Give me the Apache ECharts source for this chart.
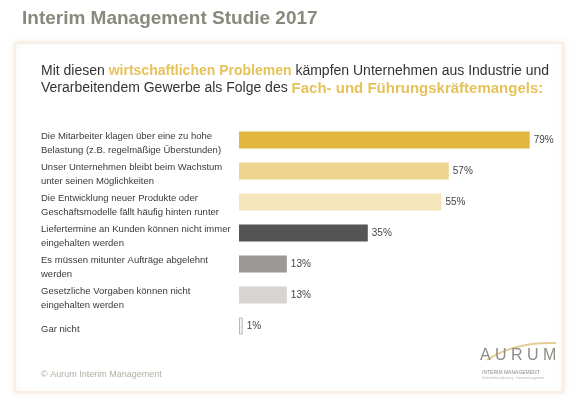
<!DOCTYPE html>
<html><head><meta charset="utf-8">
<script src="https://cdn.jsdelivr.net/npm/echarts@6/dist/echarts.min.js"></script>
<style>html,body{margin:0;padding:0;background:#fff}#c{width:580px;height:404px}</style>
</head><body><div id="c"></div>
<script>
const categories = [
  "Die Mitarbeiter klagen über eine zu hohe\nBelastung (z.B. regelmäßige Überstunden)",
  "Unser Unternehmen bleibt beim Wachstum\nunter seinen Möglichkeiten",
  "Die Entwicklung neuer Produkte oder\nGeschäftsmodelle fällt häufig hinten runter",
  "Liefertermine an Kunden können nicht immer\neingehalten werden",
  "Es müssen mitunter Aufträge abgelehnt\nwerden",
  "Gesetzliche Vorgaben können nicht\neingehalten werden",
  "Gar nicht"
];
const values = [79, 57, 55, 35, 13, 13, 1];
const barColors = ["#e2b73f", "#edd58f", "#f5e5bb", "#555555", "#9c9895", "#d8d4d1", "#f7f7f2"];

const chart = echarts.init(document.getElementById('c'), null, {renderer: 'canvas'});
const FONT = 'Liberation Sans, Arial, sans-serif';
chart.setOption({
  animation: false,
  backgroundColor: '#ffffff',
  textStyle: {fontFamily: FONT},
  grid: {left: 239, top: 124.5, height: 217, width: 294.4},
  xAxis: {type: 'value', min: 0, max: 80, show: false},
  yAxis: {
    type: 'category', data: categories, inverse: true,
    axisLine: {show: false}, axisTick: {show: false},
    axisLabel: {interval: 0, hideOverlap: false, align: 'left', margin: 198, color: '#3a3a3a', fontSize: 9.5, lineHeight: 13.5,
      fontFamily: FONT,
      formatter: v => '{s| }\n' + v,
      rich: {s: {fontSize: 2, lineHeight: 7}}}
  },
  series: [{
    type: 'bar', barWidth: 17,
    data: values.map((v, i) => ({
      value: v,
      itemStyle: {color: barColors[i], borderColor: i === 6 ? '#b8b8b0' : barColors[i], borderWidth: i === 6 ? 1 : 0}
    })),
    label: {show: true, position: 'right', distance: 4, formatter: '{c}%', color: '#444', fontSize: 10, fontFamily: FONT}
  }],
  graphic: [
    {type: 'rect', z: -10, shape: {x: 15, y: 43, width: 548, height: 349},
      style: {fill: '#ffffff', stroke: '#f6ede2', lineWidth: 1.5, shadowBlur: 5, shadowColor: 'rgba(235,218,195,0.5)'}},
    {type: 'text', left: 22, top: 9, style: {text: 'Interim Management Studie 2017', font: 'bold 19px ' + FONT, fill: '#8a897e'}},
    {type: 'text', left: 41, top: 64, style: {
      text: 'Mit diesen {g|wirtschaftlichen Problemen} kämpfen Unternehmen aus Industrie und',
      font: '14px ' + FONT, fill: '#333',
      rich: {g: {fontSize: 14, fontWeight: 'bold', fill: '#e6c25b', fontFamily: FONT}}
    }},
    {type: 'text', left: 41, top: 81, style: {
      text: 'Verarbeitendem Gewerbe als Folge des {g|Fach- und Führungskräftemangels:}',
      font: '14px ' + FONT, fill: '#333',
      rich: {g: {fontSize: 15, fontWeight: 'bold', fill: '#e6c25b', fontFamily: FONT}}
    }},
    {type: 'text', left: 41, top: 370, style: {text: '© Aurum Interim Management', font: '9px ' + FONT, fill: '#b3ada4'}},
    {type: 'bezierCurve', shape: {x1: 487, y1: 360, x2: 556, y2: 343, cpx1: 505, cpy1: 348, cpx2: 530, cpy2: 342},
      style: {stroke: '#e3cd95', lineWidth: 2, fill: null}},
    {type: 'text', left: 480, top: 348, style: {text: 'A U R U M', font: '16px ' + FONT, fill: '#8f8c86'}},
    {type: 'text', left: 482, top: 370, style: {text: 'INTERIM MANAGEMENT', font: '5px ' + FONT, fill: '#8f8c86'}},
    {type: 'text', left: 482, top: 377, style: {text: 'Unternehmensberatung · Interimsmanagement', font: '3px ' + FONT, fill: '#b8b4ae'}}
  ]
});
</script></body></html>
